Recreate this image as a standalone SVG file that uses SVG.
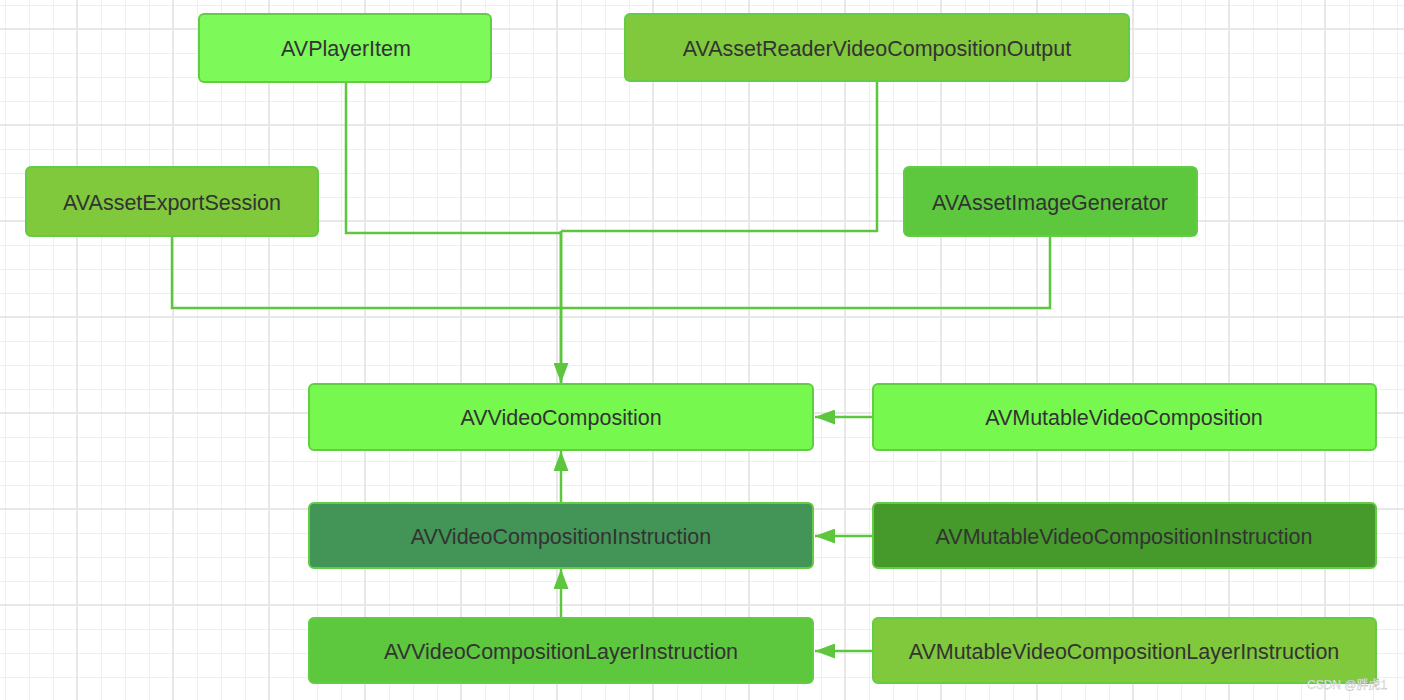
<svg xmlns="http://www.w3.org/2000/svg" width="1404" height="700" viewBox="0 0 1404 700">
<style>
.node rect{stroke:#62cc44;stroke-width:2;}
.node text{font-family:"Liberation Sans",Arial,sans-serif;font-size:21.5px;fill:#333333;text-anchor:middle;}
.edge{fill:none;stroke:#5ec63e;stroke-width:2.5;}
.wm{font-family:"Liberation Sans","Noto Sans CJK SC",sans-serif;font-size:12px;fill:#ffffff;stroke:#aaaaaa;stroke-width:0.3;}
</style>
<defs>
<pattern id="grid" x="5" y="5" width="96" height="96" patternUnits="userSpaceOnUse">
<path d="M0.5 0V96M24.5 0V96M48.5 0V96M0 0.5H96M0 48.5H96M0 72.5H96" stroke="#efefef" stroke-width="1" fill="none"/>
<path d="M72 0V96M0 24H96" stroke="#e8e8e8" stroke-width="2" fill="none"/>
</pattern>
<marker id="arr" viewBox="0 0 20 15" refX="20" refY="7.5" markerWidth="20" markerHeight="15" markerUnits="userSpaceOnUse" orient="auto">
<path d="M0 0L20 7.5L0 15Z" fill="#5ec63e"/>
</marker>
</defs>
<rect width="1404" height="700" fill="#ffffff"/>
<rect width="1404" height="700" fill="url(#grid)"/>
<g id="connectors">
<path class="edge" d="M346 82V233H561"/>
<path class="edge" d="M877 81V231H561"/>
<path class="edge" d="M172 236V308H1050V236"/>
<path class="edge" style="stroke-width:3" d="M561 231V383" marker-end="url(#arr)"/>
<path class="edge" d="M561 502V451" marker-end="url(#arr)"/>
<path class="edge" d="M561 617V569" marker-end="url(#arr)"/>
<path class="edge" d="M872 417H815" marker-end="url(#arr)"/>
<path class="edge" d="M872 536H815" marker-end="url(#arr)"/>
<path class="edge" d="M872 651H815" marker-end="url(#arr)"/>
</g>
<g id="AVPlayerItem" class="node"><rect x="199" y="14" width="292" height="68" rx="5" fill="#7ef95a"/><text x="346" y="56">AVPlayerItem</text></g>
<g id="AVAssetReaderVideoCompositionOutput" class="node"><rect x="625" y="14" width="504" height="67" rx="5" fill="#80c83c"/><text x="877" y="56">AVAssetReaderVideoCompositionOutput</text></g>
<g id="AVAssetExportSession" class="node"><rect x="26" y="167" width="292" height="69" rx="5" fill="#80c83c"/><text x="172" y="210">AVAssetExportSession</text></g>
<g id="AVAssetImageGenerator" class="node"><rect x="904" y="167" width="293" height="69" rx="5" fill="#5dc73d"/><text x="1050" y="210">AVAssetImageGenerator</text></g>
<g id="AVVideoComposition" class="node"><rect x="309" y="384" width="504" height="66" rx="5" fill="#77f84f"/><text x="561" y="425">AVVideoComposition</text></g>
<g id="AVMutableVideoComposition" class="node"><rect x="873" y="384" width="503" height="66" rx="5" fill="#77f84f"/><text x="1124" y="425">AVMutableVideoComposition</text></g>
<g id="AVVideoCompositionInstruction" class="node"><rect x="309" y="503" width="504" height="65" rx="5" fill="#439457"/><text x="561" y="544">AVVideoCompositionInstruction</text></g>
<g id="AVMutableVideoCompositionInstruction" class="node"><rect x="873" y="503" width="503" height="65" rx="5" fill="#46992b"/><text x="1124" y="544">AVMutableVideoCompositionInstruction</text></g>
<g id="AVVideoCompositionLayerInstruction" class="node"><rect x="309" y="618" width="504" height="65" rx="5" fill="#5dc73d"/><text x="561" y="659">AVVideoCompositionLayerInstruction</text></g>
<g id="AVMutableVideoCompositionLayerInstruction" class="node"><rect x="873" y="618" width="503" height="65" rx="5" fill="#80c83c"/><text x="1124" y="659">AVMutableVideoCompositionLayerInstruction</text></g>
<text class="wm" x="1307" y="689">CSDN @胖虎1</text>
</svg>
